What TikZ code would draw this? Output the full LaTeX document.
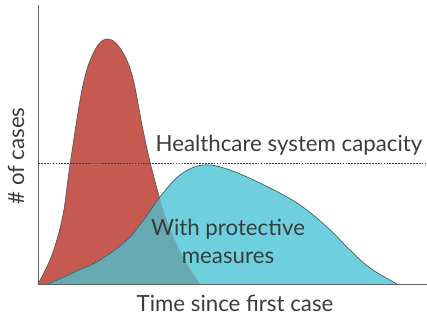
\documentclass[tikz,border=0pt]{standalone}
\usepackage{fontspec}
\setmainfont{Lato}
\usetikzlibrary{calc}
\definecolor{peakred}{RGB}{198,90,80}
\definecolor{flatcyan}{RGB}{110,207,221}
\definecolor{overlapteal}{RGB}{104,170,180}
\definecolor{inkgray}{RGB}{60,60,60}
\begin{document}
\begin{tikzpicture}[x=0.03cm,y=-0.03cm,
    lbl/.style={text=inkgray,font=\fontsize{19}{23}\selectfont,inner sep=0pt},
    rim/.style={draw=inkgray!85,line width=0.6pt}]
  \useasboundingbox (0,0) rectangle (427,320);
  % axes corners
  \coordinate (o) at (38,284);
  \coordinate (ytop) at (38,5);
  \coordinate (xend) at (427,284);
  \coordinate (capl) at (38,163);
  \coordinate (capr) at (427,163);
  \def\redcurve{plot[smooth,tension=0.6] coordinates {(38,284) (52,255) (63,215) (70,165) (83,85) (95,50) (107,39) (120,48) (132,75) (143,130) (152,170) (165,215) (182,255) (200,284)}}
  \def\cyancurve{plot[smooth,tension=0.6] coordinates {(48,284) (75,272) (100,260) (127,240) (145,218) (160,197) (180,175) (203,165) (230,170) (270,188) (300,205) (327,227) (350,250) (370,268) (397,284)}}
  \fill[peakred] \redcurve -- cycle;
  \draw[rim] \redcurve;
  \fill[flatcyan] \cyancurve -- cycle;
  \begin{scope}
    \clip \redcurve -- cycle;
    \fill[overlapteal] \cyancurve -- cycle;
  \end{scope}
  \draw[rim] \cyancurve;
  % axes
  \draw[inkgray!80,line width=0.8pt] (ytop) -- (o) -- (xend);
  \draw[inkgray,line width=0.5pt,dash pattern=on 1.5pt off 1pt] (capl) -- (capr);
  \node[lbl] (cap) at (289,145) {Healthcare system capacity};
  \node[lbl,align=center,font=\fontsize{19}{24}\selectfont] (prot) at (228,241) {With protective\\measures};
  \node[lbl] (xlab) at (235,303) {Time since first case};
  \node[lbl,rotate=90] (ylab) at (16,156) {\# of cases};
\end{tikzpicture}
\end{document}
